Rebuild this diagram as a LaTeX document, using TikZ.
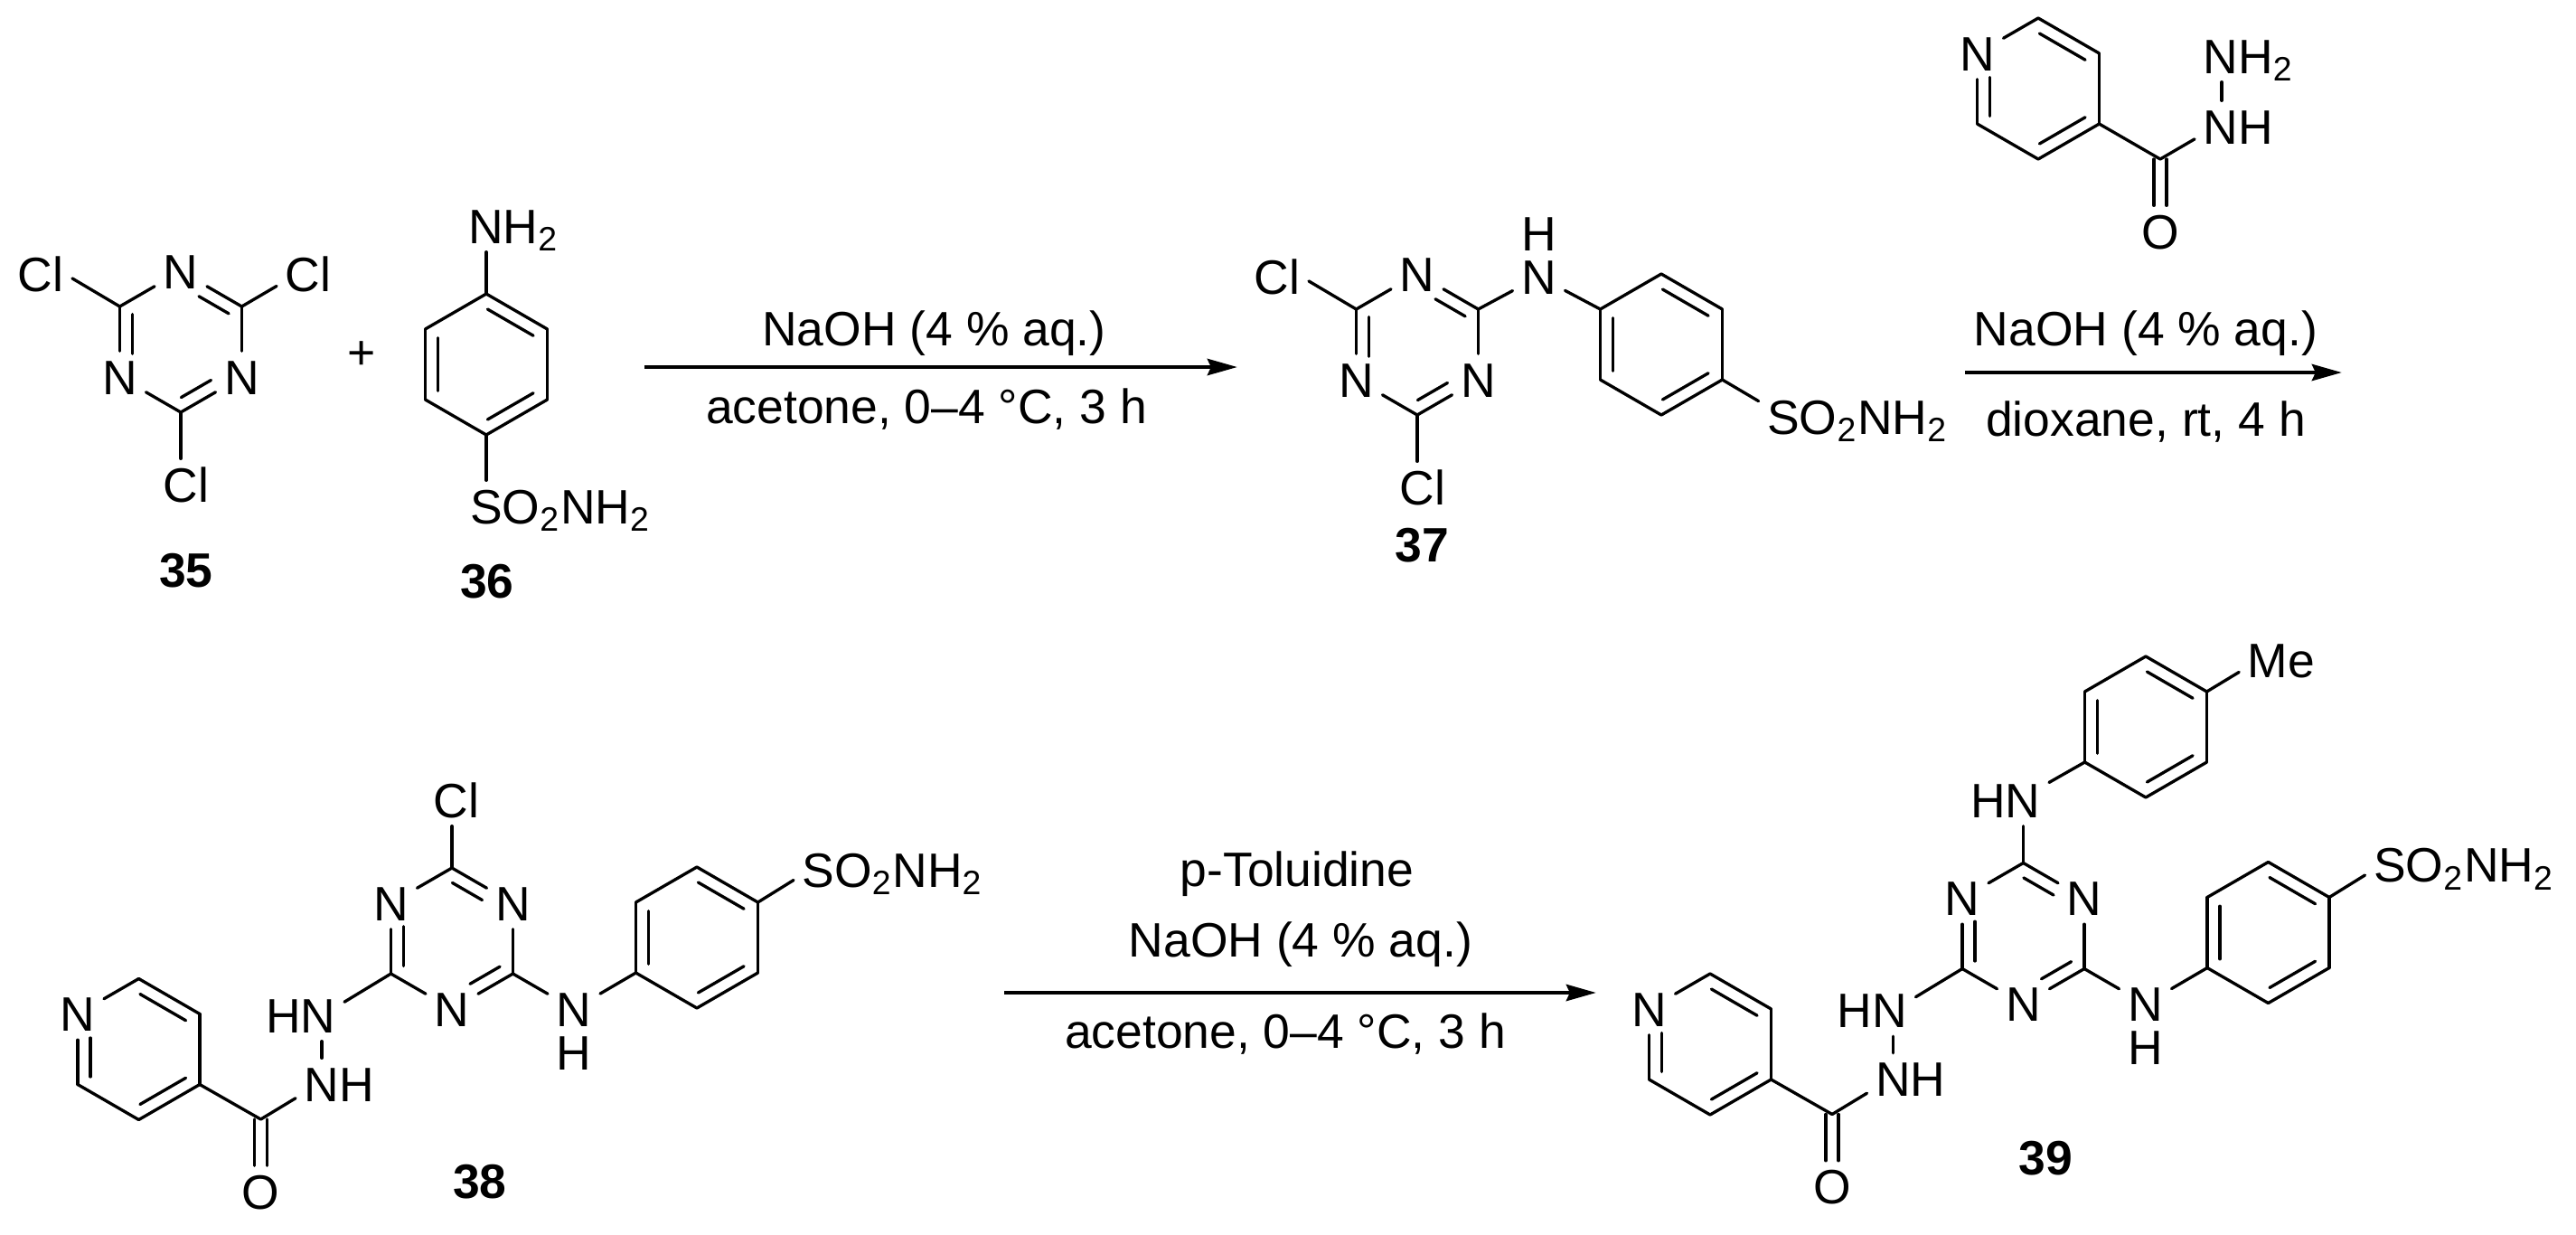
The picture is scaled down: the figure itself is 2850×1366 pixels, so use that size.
\documentclass[tikz,border=0pt]{standalone}
\usepackage{fontspec}
\setmainfont{Liberation Sans}
\usetikzlibrary{arrows.meta, calc}

\newcommand{\chemfont}{\fontsize{15.2}{18}\selectfont}
\newcommand{\sulfamoyl}{SO\textsubscript{2}NH\textsubscript{2}}

\newcommand{\hexpoints}[3]{%
  \foreach \pos/\dx/\dy in {a/0/-78,b/67.5/-39,c/67.5/39,d/0/78,e/-67.5/39,f/-67.5/-39}
    \coordinate (#1\pos) at (#2+\dx,#3+\dy);
}
\newcommand{\hexbonds}[2]{%
  \foreach \ua/\ub in {a/b,b/c,c/d,d/e,e/f,f/a}
    \draw[bond] (#1\ua) -- (#1\ub);
  \foreach \ua/\ub/\fa/\fb in {#2}
    \draw[bond] ($(#1\ua)!\fa!(#1\ub)!.14cm!-90:(#1\ub)$) -- ($(#1\ua)!\fb!(#1\ub)!.14cm!-90:(#1\ub)$);
}
\newcommand{\hydrazidepart}{%
  \hexpoints{py}{153.5}{1160.5}
  \hexpoints{tz}{500}{1038}
  \hexpoints{ar}{771}{1037}
  \node[atom] (pyf) at (pyf) {N};
  \foreach \pos in {b,d,f} \node[atom] (tz\pos) at (tz\pos) {N};
  \node[atom] (nl) at (635,1116) {N};
  \node[atom, inner sep=0pt] (hl) at (635,1164) {H};
  \node[atom, anchor=base west] (nh) at (327,1218) {NH};
  \node[atom, anchor=base east] (hn) at (381,1142) {HN};
  \node[atom] (ox) at (288.5,1318) {O};
  \node[atom, anchor=base west] (so) at (878,981) {\sulfamoyl};
  \coordinate (co) at (288.5,1238);
  \coordinate (nn) at (356,1160);
  \hexbonds{py}{a/b/.125/.875,c/d/.125/.875,e/f/.11/.66}
  \hexbonds{tz}{a/b/.11/.6,c/d/.11/.6,e/f/.11/.67}
  \hexbonds{ar}{a/b/.125/.875,c/d/.125/.875,e/f/.125/.875}
  \draw[bond] (pyc) -- (co);
  \draw[bond] (co) -- (nh.198);
  \draw[bond] ($(co)+(-7,0)$) -- ($(ox.north)+(-7,0)$);
  \draw[bond] ($(co)+(7,0)$) -- ($(ox.north)+(7,0)$);
  \draw[bond] (nn |- hn.south) -- (nn |- nh.north);
  \draw[bond] (tze) -- (hn.17);
  \draw[bond] (tzc) -- (nl);
  \draw[bond] (nl) -- (are);
  \draw[bond] (arb) -- (so.186);
}

\begin{document}
\begin{tikzpicture}[x=0.01cm, y=-0.01cm, every node/.style={font=\chemfont}]
\tikzstyle{atom} = [inner sep=0.09cm, text height=0.38cm, text depth=0pt]
\tikzstyle{bond} = [line width=0.95pt, line cap=round]
\tikzstyle{compound} = [font=\chemfont\bfseries]
\tikzstyle{reagent} = [anchor=base]
\tikzstyle{rxn} = [line width=1.4pt, -{Stealth[length=0.33cm, width=0.18cm, inset=0.04cm]}]

\useasboundingbox (0,0) rectangle (2850,1366);

\hexpoints{ca}{200}{378}
\hexpoints{sa}{538}{403}
\foreach \pos in {a,c,e} \node[atom] (ca\pos) at (ca\pos) {N};
\node[atom] (cl1) at (45,303) {Cl};
\node[atom] (cl2) at (341,303) {Cl};
\node[atom] (cl3) at (206,536) {Cl};
\node[atom, anchor=base west] (nh36) at (508.5,269) {NH\textsubscript{2}};
\node[atom, anchor=base west] (so36) at (510.5,579) {\sulfamoyl};
\node (plus) at (400,393) {+};
\node[compound] (c35) at (206,631) {35};
\node[compound] (c36) at (539,643) {36};
\hexbonds{ca}{a/b/.4/.89,c/d/.4/.89,e/f/.33/.89}
\hexbonds{sa}{a/b/.125/.875,c/d/.125/.875,e/f/.125/.875}
\draw[bond] (caf) -- (cl1.-8);
\draw[bond] (cab) -- (cl2.201);
\draw[bond] (cad) -- (cad |- cl3.north);
\draw[bond] (saa) -- (saa |- nh36.south);
\draw[bond] (sad) -- (sad |- so36.north);

\coordinate (arrow1s) at (713,406);
\coordinate (arrow1e) at (1369,406);
\draw[rxn] (arrow1s) -- (arrow1e);
\node[reagent] (naoh1) at (1033.5,382) {NaOH (4 \% aq.)};
\node[reagent] (solv1) at (1025,468) {acetone, 0–4 °C, 3 h};

\hexpoints{tb}{1568}{381}
\hexpoints{ab}{1838}{381}
\foreach \pos in {a,c,e} \node[atom] (tb\pos) at (tb\pos) {N};
\node[atom] (nb) at (1702.5,306) {N};
\node[atom, inner sep=0pt] (hb) at (1702.5,258) {H};
\node[atom] (cl4) at (1413,306) {Cl};
\node[atom] (cl5) at (1574,539) {Cl};
\node[atom, anchor=base west] (so37) at (1945.6,480) {\sulfamoyl};
\node[compound] (c37) at (1573,603) {37};
\hexbonds{tb}{a/b/.4/.89,c/d/.4/.89,e/f/.33/.89}
\hexbonds{ab}{a/b/.125/.875,c/d/.125/.875,e/f/.125/.875}
\draw[bond] (tbf) -- (cl4.-8);
\draw[bond] (tbd) -- (tbd |- cl5.north);
\draw[bond] (tbb) -- (nb);
\draw[bond] (nb) -- (abf);
\draw[bond] (abc) -- (so37.171);

\hexpoints{ip}{2255}{98}
\node[atom] (ipf) at (ipf) {N};
\node[atom] (oxi) at (2390,256) {O};
\node[atom, anchor=base west] (nhi) at (2428,159) {NH};
\node[atom, anchor=base west] (nh2i) at (2428,81) {NH\textsubscript{2}};
\coordinate (coi) at (2390,176);
\coordinate (nni) at (2458,100);
\hexbonds{ip}{a/b/.125/.875,c/d/.125/.875,e/f/.11/.66}
\draw[bond] (ipc) -- (coi);
\draw[bond] (coi) -- (nhi.196);
\draw[bond] ($(coi)+(-7,0)$) -- ($(oxi.north)+(-7,0)$);
\draw[bond] ($(coi)+(7,0)$) -- ($(oxi.north)+(7,0)$);
\draw[bond] (nni |- nh2i.south) -- (nni |- nhi.north);

\coordinate (arrow2s) at (2174,412);
\coordinate (arrow2e) at (2591,412);
\draw[rxn] (arrow2s) -- (arrow2e);
\node[reagent] (naoh2) at (2374,382) {NaOH (4 \% aq.)};
\node[reagent] (solv2) at (2374,482) {dioxane, rt, 4 h};

\begin{scope}[name prefix=m38]
\hydrazidepart
\end{scope}
\node[atom] (cl6) at (505,885) {Cl};
\node[compound] (c38) at (531,1307) {38};
\draw[bond] (m38tza) -- (m38tza |- cl6.south);

\coordinate (arrow3s) at (1111,1098);
\coordinate (arrow3e) at (1766,1098);
\draw[rxn] (arrow3s) -- (arrow3e);
\node[reagent] (tol) at (1435,980) {p-Toluidine};
\node[reagent] (naoh3) at (1439,1058) {NaOH (4 \% aq.)};
\node[reagent] (solv3) at (1422,1159) {acetone, 0–4 °C, 3 h};

\begin{scope}[shift={(1738.5,-5.5)}, name prefix=m39]
\hydrazidepart
\end{scope}
\hexpoints{to}{2374}{804}
\node[atom, anchor=base east] (hnt) at (2267,904) {HN};
\node[atom] (me) at (2524,730) {Me};
\node[compound] (c39) at (2263,1281.5) {39};
\hexbonds{to}{a/b/.125/.875,c/d/.125/.875,e/f/.125/.875}
\draw[bond] (m39tza) -- (m39tza |- hnt.south);
\draw[bond] (toe) -- (hnt.22);
\draw[bond] (tob) -- (me.196);

\end{tikzpicture}
\end{document}
